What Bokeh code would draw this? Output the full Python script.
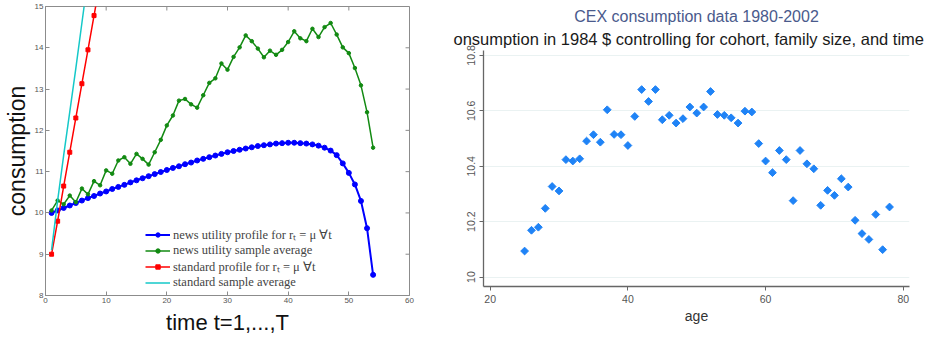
from bokeh.plotting import figure
from bokeh.layouts import row
from bokeh.models import Legend, LegendItem, FixedTicker, Range1d, Title
from bokeh.embed import file_html
from bokeh.resources import INLINE

# ---------------- data: left panel (model) ----------------
t = list(range(1, 55))
news_profile = [10.00, 10.06, 10.12, 10.18, 10.24, 10.30, 10.36, 10.41, 10.47, 10.52,
                10.58, 10.63, 10.68, 10.74, 10.79, 10.84, 10.89, 10.94, 10.99, 11.04,
                11.09, 11.13, 11.18, 11.22, 11.27, 11.31, 11.35, 11.39, 11.43, 11.47,
                11.50, 11.53, 11.56, 11.59, 11.62, 11.64, 11.66, 11.68, 11.69, 11.70,
                11.70, 11.69, 11.68, 11.66, 11.63, 11.58, 11.51, 11.40, 11.20, 10.97,
                10.69, 10.29, 9.63, 8.50]
news_sample = [10.06, 10.30, 10.21, 10.42, 10.26, 10.59, 10.45, 10.77, 10.67, 11.03,
               10.95, 11.27, 11.35, 11.19, 11.43, 11.31, 11.17, 11.47, 11.77, 12.12,
               12.36, 12.72, 12.76, 12.63, 12.55, 12.85, 13.15, 13.26, 13.62, 13.47,
               13.78, 14.01, 14.30, 14.16, 13.98, 13.77, 13.93, 13.83, 13.95, 14.14,
               14.40, 14.23, 14.16, 14.46, 14.26, 14.50, 14.60, 14.32, 14.01, 13.87,
               13.51, 13.09, 12.44, 11.58]
t_std_profile = [1, 2, 3, 4, 5, 6, 7, 8, 9]
std_profile = [9.00, 9.80, 10.65, 11.47, 12.30, 13.13, 13.95, 14.78, 15.60]
t_std_sample = [1, 2, 3, 4, 5, 6, 7]
std_sample = [9.10, 10.30, 11.40, 12.45, 13.50, 14.60, 15.70]
x_ticks_l = [0, 10, 20, 30, 40, 50, 60]
y_ticks_l = [8, 9, 10, 11, 12, 13, 14, 15]

legend_labels = ["news utility profile for rₜ = μ ∀t",
                 "news utility sample average",
                 "standard profile for rₜ = μ ∀t",
                 "standard sample average"]

# ---------------- data: right panel (CEX) ----------------
ages = list(range(25, 79))
cex = [10.094, 10.169, 10.180, 10.248, 10.327, 10.311, 10.424, 10.419, 10.427, 10.491,
       10.514, 10.487, 10.604, 10.515, 10.514, 10.475, 10.580, 10.677, 10.634, 10.677,
       10.568, 10.584, 10.556, 10.572, 10.614, 10.592, 10.614, 10.670, 10.587, 10.584,
       10.575, 10.556, 10.599, 10.596, 10.482, 10.419, 10.377, 10.457, 10.424, 10.276,
       10.457, 10.409, 10.391, 10.259, 10.313, 10.295, 10.355, 10.325, 10.205, 10.157,
       10.136, 10.226, 10.099, 10.253]
x_ticks_r = [20, 40, 60, 80]
y_ticks_r = [10, 10.2, 10.4, 10.6, 10.8]
y_labels_r = {10: "10", 10.2: "10.2", 10.4: "10.4", 10.6: "10.6", 10.8: "10.8"}
title_r = "CEX consumption data 1980-2002"
subtitle_r = "onsumption in 1984 $ controlling for cohort, family size, and time"

# ================= left figure =================
X0, X1, Y0, Y1 = 0, 60, 8, 15
p1 = figure(width=440, height=340, x_range=Range1d(X0, X1), y_range=Range1d(Y0, Y1),
            output_backend="svg", toolbar_location=None, frame_align=False,
            min_border_left=42, min_border_right=31, min_border_top=6, min_border_bottom=45,
            x_axis_label="time t=1,...,T", y_axis_label="consumption")
p1.background_fill_color = "white"
p1.border_fill_color = "white"
p1.outline_line_color = "#8c8c8c"
p1.xgrid.visible = False
p1.ygrid.visible = False

for ax in (p1.xaxis[0], p1.yaxis[0]):
    ax.major_tick_in = 4
    ax.major_tick_out = 0
    ax.minor_tick_in = 0
    ax.minor_tick_out = 0
    ax.axis_line_color = "#8c8c8c"
    ax.major_tick_line_color = "#8c8c8c"
    ax.major_label_text_font_size = "8px"
    ax.major_label_text_color = "#555555"
    ax.major_label_text_font = "Liberation Sans"
    ax.major_label_standoff = 2
    ax.axis_label_text_font = "Liberation Sans"
    ax.axis_label_text_font_style = "normal"
    ax.axis_label_text_color = "#111111"
    ax.axis_label_standoff = 4
p1.xaxis[0].axis_label_text_font_size = "22px"
p1.yaxis[0].axis_label_text_font_size = "23px"
p1.yaxis[0].axis_label_standoff = 2
p1.xaxis[0].ticker = FixedTicker(ticks=x_ticks_l)
p1.yaxis[0].ticker = FixedTicker(ticks=y_ticks_l)

# inward ticks on the top and right edges of the box (4 px long)
dy = 4 * (Y1 - Y0) / 289.0
dx = 4 * (X1 - X0) / 367.0
p1.segment(x0=x_ticks_l, y0=[Y1] * len(x_ticks_l), x1=x_ticks_l, y1=[Y1 - dy] * len(x_ticks_l),
           line_color="#8c8c8c", line_width=1)
p1.segment(x0=[X1] * len(y_ticks_l), y0=y_ticks_l, x1=[X1 - dx] * len(y_ticks_l), y1=y_ticks_l,
           line_color="#8c8c8c", line_width=1)

r_bl = p1.line(t, news_profile, line_color="#0000ff", line_width=2)
r_bm = p1.scatter(t, news_profile, marker="circle", size=5, fill_color="#0000ff", line_color="#0000ff")
r_gl = p1.line(t, news_sample, line_color="#128a12", line_width=1.5)
r_gm = p1.scatter(t, news_sample, marker="circle", size=3.5, fill_color="#128a12", line_color="#128a12")
r_rl = p1.line(t_std_profile, std_profile, line_color="#ff0000", line_width=1.5)
r_rm = p1.scatter(t_std_profile, std_profile, marker="square", size=4, fill_color="#ff0000", line_color="#ff0000")
r_cl = p1.line(t_std_sample, std_sample, line_color="#14c8c8", line_width=1.5)

legend = Legend(items=[
    LegendItem(label=legend_labels[0], renderers=[r_bl, r_bm]),
    LegendItem(label=legend_labels[1], renderers=[r_gl, r_gm]),
    LegendItem(label=legend_labels[2], renderers=[r_rl, r_rm]),
    LegendItem(label=legend_labels[3], renderers=[r_cl]),
], location=(100, 5))
legend.label_text_font = "Liberation Serif"
legend.label_text_font_size = "12.5px"
legend.label_text_color = "#444444"
legend.glyph_width = 25
legend.glyph_height = 11
legend.label_height = 11
legend.label_standoff = 3
legend.spacing = 0
legend.padding = 0
legend.margin = 0
legend.border_line_alpha = 0
legend.background_fill_alpha = 0
p1.add_layout(legend)

# ================= right figure =================
p2 = figure(width=488, height=340, x_range=Range1d(19.03, 80.9), y_range=Range1d(9.966, 10.818),
            output_backend="svg", toolbar_location=None, frame_align=False,
            min_border_left=43, min_border_right=19, min_border_top=50, min_border_bottom=54,
            x_axis_label="age")
p2.background_fill_color = "white"
p2.border_fill_color = "white"
p2.outline_line_color = None
p2.xgrid.visible = False
p2.ygrid.grid_line_color = "#eaf2f2"
p2.ygrid.grid_line_width = 1.2
p2.xaxis.ticker = FixedTicker(ticks=x_ticks_r)
p2.yaxis.ticker = FixedTicker(ticks=y_ticks_r)
p2.yaxis.major_label_overrides = y_labels_r
p2.yaxis.major_label_orientation = "vertical"
for ax in (p2.xaxis[0], p2.yaxis[0]):
    ax.major_tick_in = 0
    ax.major_tick_out = 4
    ax.minor_tick_in = 0
    ax.minor_tick_out = 0
    ax.axis_line_color = "#666666"
    ax.axis_line_width = 1.3
    ax.major_tick_line_color = "#666666"
    ax.major_label_text_font_size = "10.5px"
    ax.major_label_text_color = "#555555"
    ax.major_label_text_font = "Liberation Sans"
    ax.major_label_standoff = 4
    ax.axis_label_text_font = "Liberation Sans"
    ax.axis_label_text_font_size = "14px"
    ax.axis_label_text_font_style = "normal"
    ax.axis_label_text_color = "#333333"
    ax.axis_label_standoff = 2

p2.scatter(ages, cex, marker="square", angle=0.785398, size=5.5,
           fill_color="#1f83f6", line_color="#1f83f6")

p2.add_layout(Title(text=subtitle_r, align="left", offset=-30, text_font="Liberation Sans",
                    text_font_size="16.5px", text_font_style="normal", text_color="#1a1a1a",
                    standoff=6), "above")
p2.add_layout(Title(text=title_r, align="center", text_font="Liberation Sans",
                    text_font_size="16px", text_font_style="normal", text_color="#4a5a8c",
                    standoff=0), "above")

layout = row(p1, p2, spacing=0)
open("out.html", "w").write(file_html(layout, INLINE))
